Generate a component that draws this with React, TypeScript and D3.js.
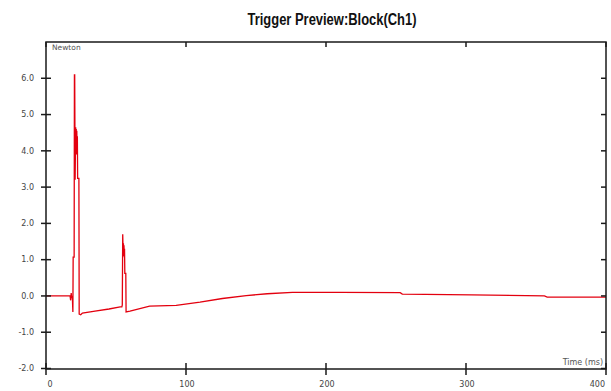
import React from 'react';
import * as d3 from 'd3';

// trigger trace: time in ms, force in Newton
const timeMs = [
  0, 15, 17.2, 17.6, 18.0, 18.4, 18.8, 19.2, 19.4, 20.1, 20.3, 20.5, 20.8, 21.2, 21.4, 21.6,
  21.8, 22.0, 22.2, 22.4, 22.6, 23.5, 23.7, 24.8, 26, 35, 45, 53, 54.2, 54.5, 54.8, 55.1,
  55.3, 55.5, 55.7, 55.9, 56.1, 56.3, 57.0, 57.2, 60, 74, 93, 110, 126, 143, 158, 176,
  210, 253, 254.5, 304, 356, 358, 400
];
const forceN = [
  0, 0, 0, -0.12, 0.08, -0.06, 0, -0.44, 1.07, 1.07, 6.09, 6.09, 3.2, 4.65, 3.9, 4.6,
  3.9, 4.55, 3.9, 4.4, 3.24, 3.24, -0.5, -0.52, -0.47, -0.42, -0.36, -0.3, -0.3, -0.25, 1.7, 1.2,
  1.45, 1.1, 1.4, 1.07, 1.3, 0.62, 0.62, -0.44, -0.42, -0.28, -0.26, -0.17, -0.07, 0.01, 0.06, 0.1,
  0.1, 0.09, 0.05, 0.03, 0, -0.03, -0.03
];
const xTicks = [0, 100, 200, 300, 400];
const yTicks = [-2, -1, 0, 1, 2, 3, 4, 5, 6];

const W = 611;
const H = 391;
const left = 46;
const right = 606;
const top = 42;
const bottom = 369;

const App: React.FC = () => {
  const x = d3.scaleLinear().domain([0, 400]).range([left, right]);
  const y = d3.scaleLinear().domain([-2, 7]).range([368.5, top]);

  const pts = timeMs.map((t, i) => [t, forceN[i]] as [number, number]);
  const line = d3.line<[number, number]>()
    .x(d => x(d[0]))
    .y(d => y(d[1]));

  const labelFont = '"DejaVu Sans", Verdana, sans-serif';
  const axisColor = '#1a1a1a';

  return (
    <svg width={W} height={H} style={{ position: 'absolute', left: 0, top: 0, background: '#fff' }}>
      <text
        x={332}
        y={25}
        textAnchor="middle"
        fontFamily='"Liberation Sans", Arial, sans-serif'
        fontWeight="bold"
        fontSize={16}
        textLength={169}
        lengthAdjust="spacingAndGlyphs"
        fill="#111"
      >
        Trigger Preview:Block(Ch1)
      </text>

      {/* data */}
      <path d={line(pts) || ''} fill="none" stroke="#e3000f" strokeWidth={1.3} strokeLinejoin="miter" />

      {/* frame */}
      <rect x={left} y={top} width={right - left} height={bottom - top} fill="none" stroke={axisColor} strokeWidth={1.5} />

      {/* left axis ticks + labels */}
      {yTicks.map(v => (
        <g key={'y' + v}>
          <line x1={left - 5} x2={left + 5} y1={y(v)} y2={y(v)} stroke={axisColor} strokeWidth={1.5} />
          <line x1={right - 5} x2={right} y1={y(v)} y2={y(v)} stroke={axisColor} strokeWidth={1.5} />
          <text x={34} y={y(v)} dy="0.35em" textAnchor="end" fontFamily={labelFont} fontSize={8} fill="#444">
            {v.toFixed(1)}
          </text>
        </g>
      ))}

      {/* bottom axis ticks + labels */}
      {xTicks.map((v, i) => {
        const anchor = i === 0 ? 'start' : i === xTicks.length - 1 ? 'end' : 'middle';
        const lx = i === 0 ? x(v) + 1.5 : i === xTicks.length - 1 ? x(v) - 1 : x(v) + 1;
        return (
          <g key={'x' + v}>
            <line x1={x(v)} x2={x(v)} y1={bottom - 6} y2={bottom + 6} stroke={axisColor} strokeWidth={1.5} />
            <line x1={x(v)} x2={x(v)} y1={top} y2={top + 5} stroke={axisColor} strokeWidth={1.5} />
            <text x={lx} y={384} dy="0.35em" textAnchor={anchor} fontFamily={labelFont} fontSize={8} fill="#444">
              {v}
            </text>
          </g>
        );
      })}

      <text x={52} y={50} fontFamily={labelFont} fontSize={7.5} fill="#555">Newton</text>
      <text x={603} y={365} textAnchor="end" fontFamily={labelFont} fontSize={8} fill="#555">Time (ms)</text>
    </svg>
  );
};

export default App;
